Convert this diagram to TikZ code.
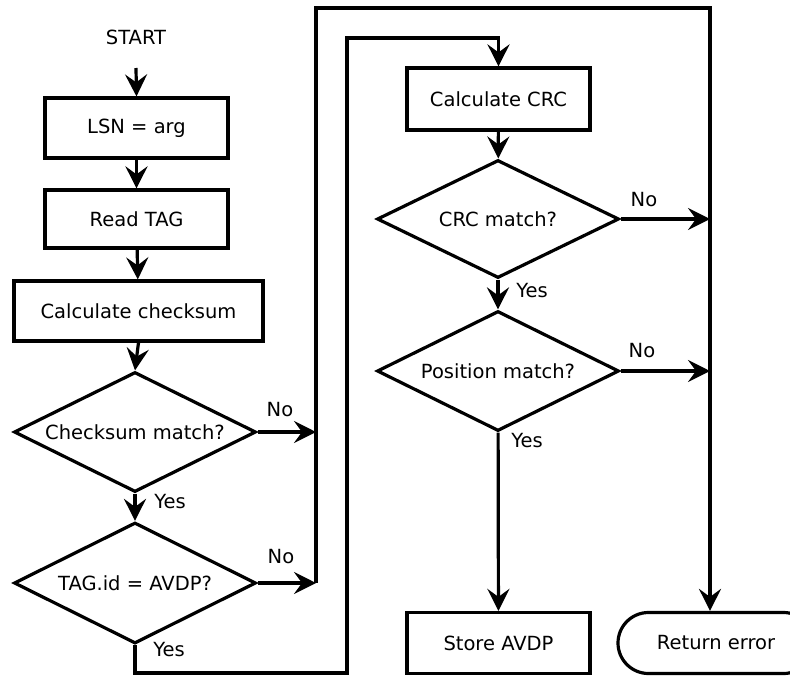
\documentclass[tikz,border=0pt]{standalone}
\usepackage{fontspec}
\setmainfont{DejaVu Sans}
\usetikzlibrary{shapes.geometric,shapes.misc,arrows.meta}
\begin{document}
\begin{tikzpicture}[x=1pt,y=-1pt,
  line width=3.2pt,
  every node/.style={font=\fontsize{19.5}{23}\selectfont},
  flow/.style={-{Stealth[length=22pt,width=22pt,inset=8pt]}},
  stepbox/.style={draw,rectangle,inner sep=0pt,line width=3.2pt},
  test/.style={draw,diamond,aspect=2,inner sep=0pt,line width=3.2pt},
  term/.style={draw,rounded rectangle,inner sep=0pt,line width=3.2pt},
  lbl/.style={inner sep=0pt}]
\useasboundingbox (0,0) rectangle (790,675);

% left column
\node[lbl] (start) at (136,37) {START};
\node[stepbox,minimum width=183pt,minimum height=60pt] (lsn) at (136.5,128) {LSN = arg};
\node[stepbox,minimum width=183pt,minimum height=58pt] (read) at (136.5,219) {Read TAG};
\node[stepbox,minimum width=249pt,minimum height=60pt] (csum) at (138.5,311) {Calculate checksum};
\node[test,minimum width=242pt,minimum height=120pt] (dcs) at (135,432) {Checksum match?};
\node[test,minimum width=242pt,minimum height=121pt] (dtag) at (135,583) {TAG.id = AVDP?};

% right column
\node[stepbox,minimum width=183pt,minimum height=62pt] (crc) at (498.5,99) {Calculate CRC};
\node[test,minimum width=242pt,minimum height=118pt] (dcrc) at (498,219) {CRC match?};
\node[test,minimum width=242pt,minimum height=120pt] (dpos) at (498,371) {Position match?};
\node[stepbox,minimum width=183pt,minimum height=61pt] (store) at (498.5,643) {Store AVDP};
\node[term,minimum width=196pt,minimum height=61pt] (ret) at (716,643) {Return error};

% routing points
\coordinate (startarrow) at (136,68);
\coordinate (j1) at (316,432);
\coordinate (j2) at (316,583);
\coordinate (ltop) at (316,8);
\coordinate (rtop) at (710,8);
\coordinate (j3) at (710,219);
\coordinate (j4) at (710,371);
\coordinate (yb1) at (347,673);
\coordinate (yb2) at (347,38);

% main sequence
\draw[flow] (startarrow) -- (lsn.north);
\draw[flow] (lsn) -- (read);
\draw[flow] (read) -- (csum);
\draw[flow] (csum.south) -- (dcs.north);
\draw[flow] (dcs) -- (dtag);
\draw[flow] (dcs.east) -- (j1);
\draw[flow] (dtag.east) -- (j2);

% error path
\draw[flow] (j2) -- (ltop) -- (rtop) -- (rtop |- ret.north);
\draw[flow] (dcrc.east) -- (j3);
\draw[flow] (dpos.east) -- (j4);

% AVDP found: go to CRC check
\draw[flow] (dtag.south) |- (yb1) -- (yb2) -| (crc.north);
\draw[flow] (crc) -- (dcrc);
\draw[flow] (dcrc) -- (dpos);
\draw[flow] (dpos) -- (store);

% branch labels
\node[lbl] (no1) at (280,410) {No};
\node[lbl] (yes1) at (170,502) {Yes};
\node[lbl] (no2) at (281,557) {No};
\node[lbl] (yes2) at (169,650) {Yes};
\node[lbl] (no3) at (644,200) {No};
\node[lbl] (yes3) at (532,291) {Yes};
\node[lbl] (no4) at (642,351) {No};
\node[lbl] (yes4) at (527,441) {Yes};
\end{tikzpicture}
\end{document}
